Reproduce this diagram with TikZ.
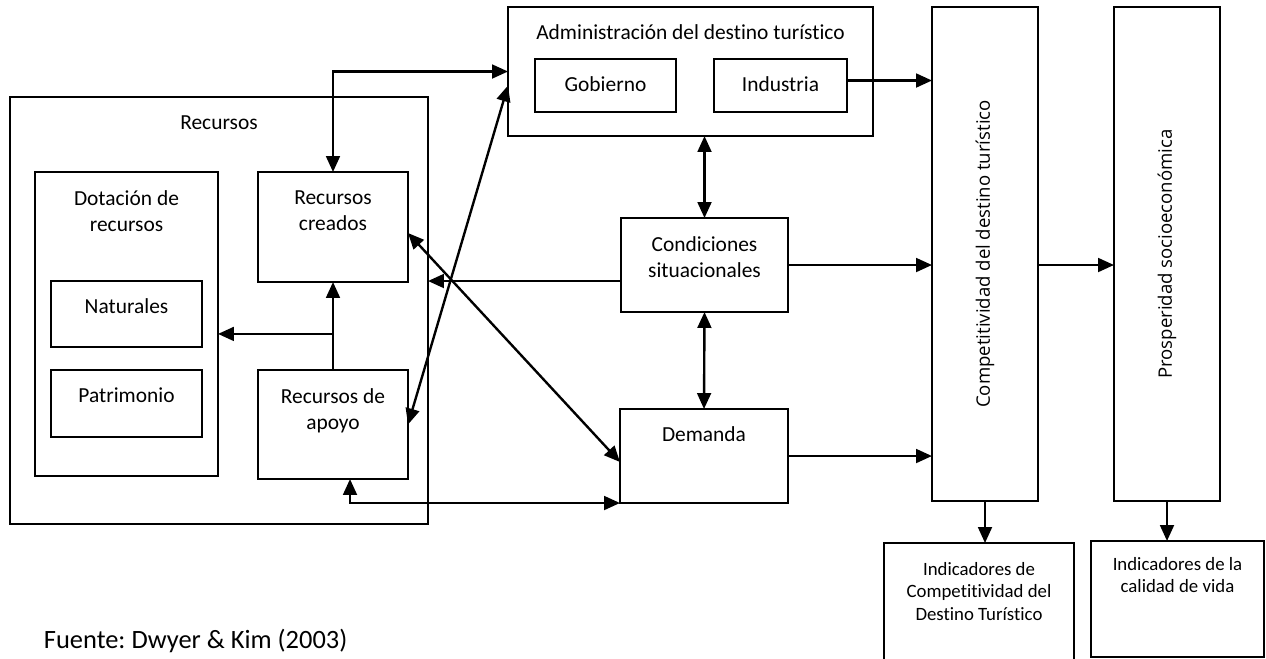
\documentclass[tikz,border=0pt]{standalone}
\usepackage{fontspec}
\setmainfont{Carlito}[Ligatures=NoCommon]
\newfontfamily\rotfont{Open Sans}
\usetikzlibrary{arrows.meta,calc}
\frenchspacing

\newcommand{\pxu}{0.42pt}
\newcommand{\boxfont}{\fontsize{9}{10.8}\selectfont}
\newcommand{\smallboxfont}{\fontsize{7.9}{9.5}\selectfont}

\begin{document}
\begin{tikzpicture}
  [x=\pxu,y=-\pxu,line width=0.8pt,
   block/.style={draw,anchor=north west,inner sep=0pt,outer sep=0pt},
   dims/.style 2 args={minimum width=#1*\pxu,minimum height=#2*\pxu},
   caption/.style={anchor=north,inner sep=0pt,align=center,font=\boxfont,yshift=-14*\pxu,execute at begin node=\strut},
   twolines/.style={caption,yshift=-4*\pxu},
   smallcaption/.style={twolines,font=\smallboxfont},
   vcaption/.style={rotate=90,anchor=center,inner sep=0pt,font=\rotfont\fontsize{7.8}{9}\selectfont},
   arr/.style={line width=1pt,-{Triangle[length=6.7pt,width=5.8pt]}},
   dbl/.style={line width=1pt,{Triangle[length=6.7pt,width=5.8pt]}-{Triangle[length=6.7pt,width=5.8pt]}}]
  \useasboundingbox (0,0) rectangle (1266,658);
  \clip (0,0) rectangle (1266,658);
  % recursos
  \node[block,dims={418}{427},label={[caption]north:Recursos}] (recursos) at (10,97) {};
  \node[block,dims={183}{304},label={[twolines]north:Dotación de\\recursos}] (dotacion) at (35,172) {};
  \node[block,dims={151}{66},label={[caption]north:Naturales}] (naturales) at (51,281) {};
  \node[block,dims={151}{67},label={[caption]north:Patrimonio}] (patrimonio) at (51,370) {};
  \node[block,dims={150}{110},label={[twolines]north:Recursos\\creados}] (creados) at (258,172) {};
  \node[block,dims={150}{109},label={[twolines]north:Recursos de\\apoyo}] (apoyo) at (258,370) {};
  % administracion
  \node[block,dims={365}{129},label={[caption]north:Administración del destino turístico}] (admin) at (508,7) {};
  \node[block,dims={141}{53},label={[caption]north:Gobierno}] (gobierno) at (535,59) {};
  \node[block,dims={133}{53},label={[caption]north:Industria}] (industria) at (714,59) {};
  % condiciones y demanda
  \node[block,dims={167}{94},label={[twolines]north:Condiciones\\situacionales}] (cond) at (621,218) {};
  \node[block,dims={168}{94},label={[caption]north:Demanda}] (demanda) at (620,409) {};
  % resultados
  \node[block,dims={106}{494},label={[vcaption]center:Competitividad del destino turístico}] (comp) at (932,7) {};
  \node[block,dims={106}{494},label={[vcaption]center:Prosperidad socioeconómica}] (prosp) at (1114,7) {};
  \node[block,dims={190}{140},label={[smallcaption]north:Indicadores de\\Competitividad del\\Destino Turístico}] (ind1) at (884,543) {};
  \node[block,dims={173}{116},label={[smallcaption,yshift=3*\pxu]north:Indicadores de la\\calidad de vida}] (cal) at (1091,541) {};
  \node[anchor=base west,inner sep=0pt,font=\fontsize{11.1}{13}\selectfont] (fuente) at (43,648) {Fuente: Dwyer \& Kim (2003)};

  % conexiones
  \coordinate (split) at ($(apoyo.north)!0.41!(creados.south)$);
  \coordinate (indout) at ([yshift=5*\pxu]industria.east);
  \coordinate (condout) at ([yshift=-16*\pxu]cond.west);
  \draw[dbl] (creados.north) |- (admin.west);
  \draw[arr] (apoyo.north) -- (creados.south);
  \draw[arr] (split) -- (split -| dotacion.east);
  \draw[dbl] (apoyo.east) -- ([yshift=-14*\pxu]admin.west);
  \draw[dbl] ([yshift=-6*\pxu]creados.east) -- ([yshift=-6*\pxu]demanda.west);
  \draw[arr] (condout) -- (condout -| recursos.east);
  \draw[dbl] ([xshift=17*\pxu]apoyo.south) |- (demanda.south west);
  \draw[dbl] (cond.north |- admin.south) -- (cond.north);
  \draw[dbl] (cond.south) -- (demanda.north);
  \draw[arr] (indout) -- (indout -| comp.west);
  \draw[arr] (cond.east) -- (cond.east -| comp.west);
  \draw[arr] (demanda.east) -- (demanda.east -| comp.west);
  \draw[arr] (comp.east |- cond.east) -- (prosp.west |- cond.east);
  \draw[arr] (comp.south) -- (comp.south |- ind1.north);
  \draw[arr] (prosp.south) -- (prosp.south |- cal.north);
\end{tikzpicture}
\end{document}
